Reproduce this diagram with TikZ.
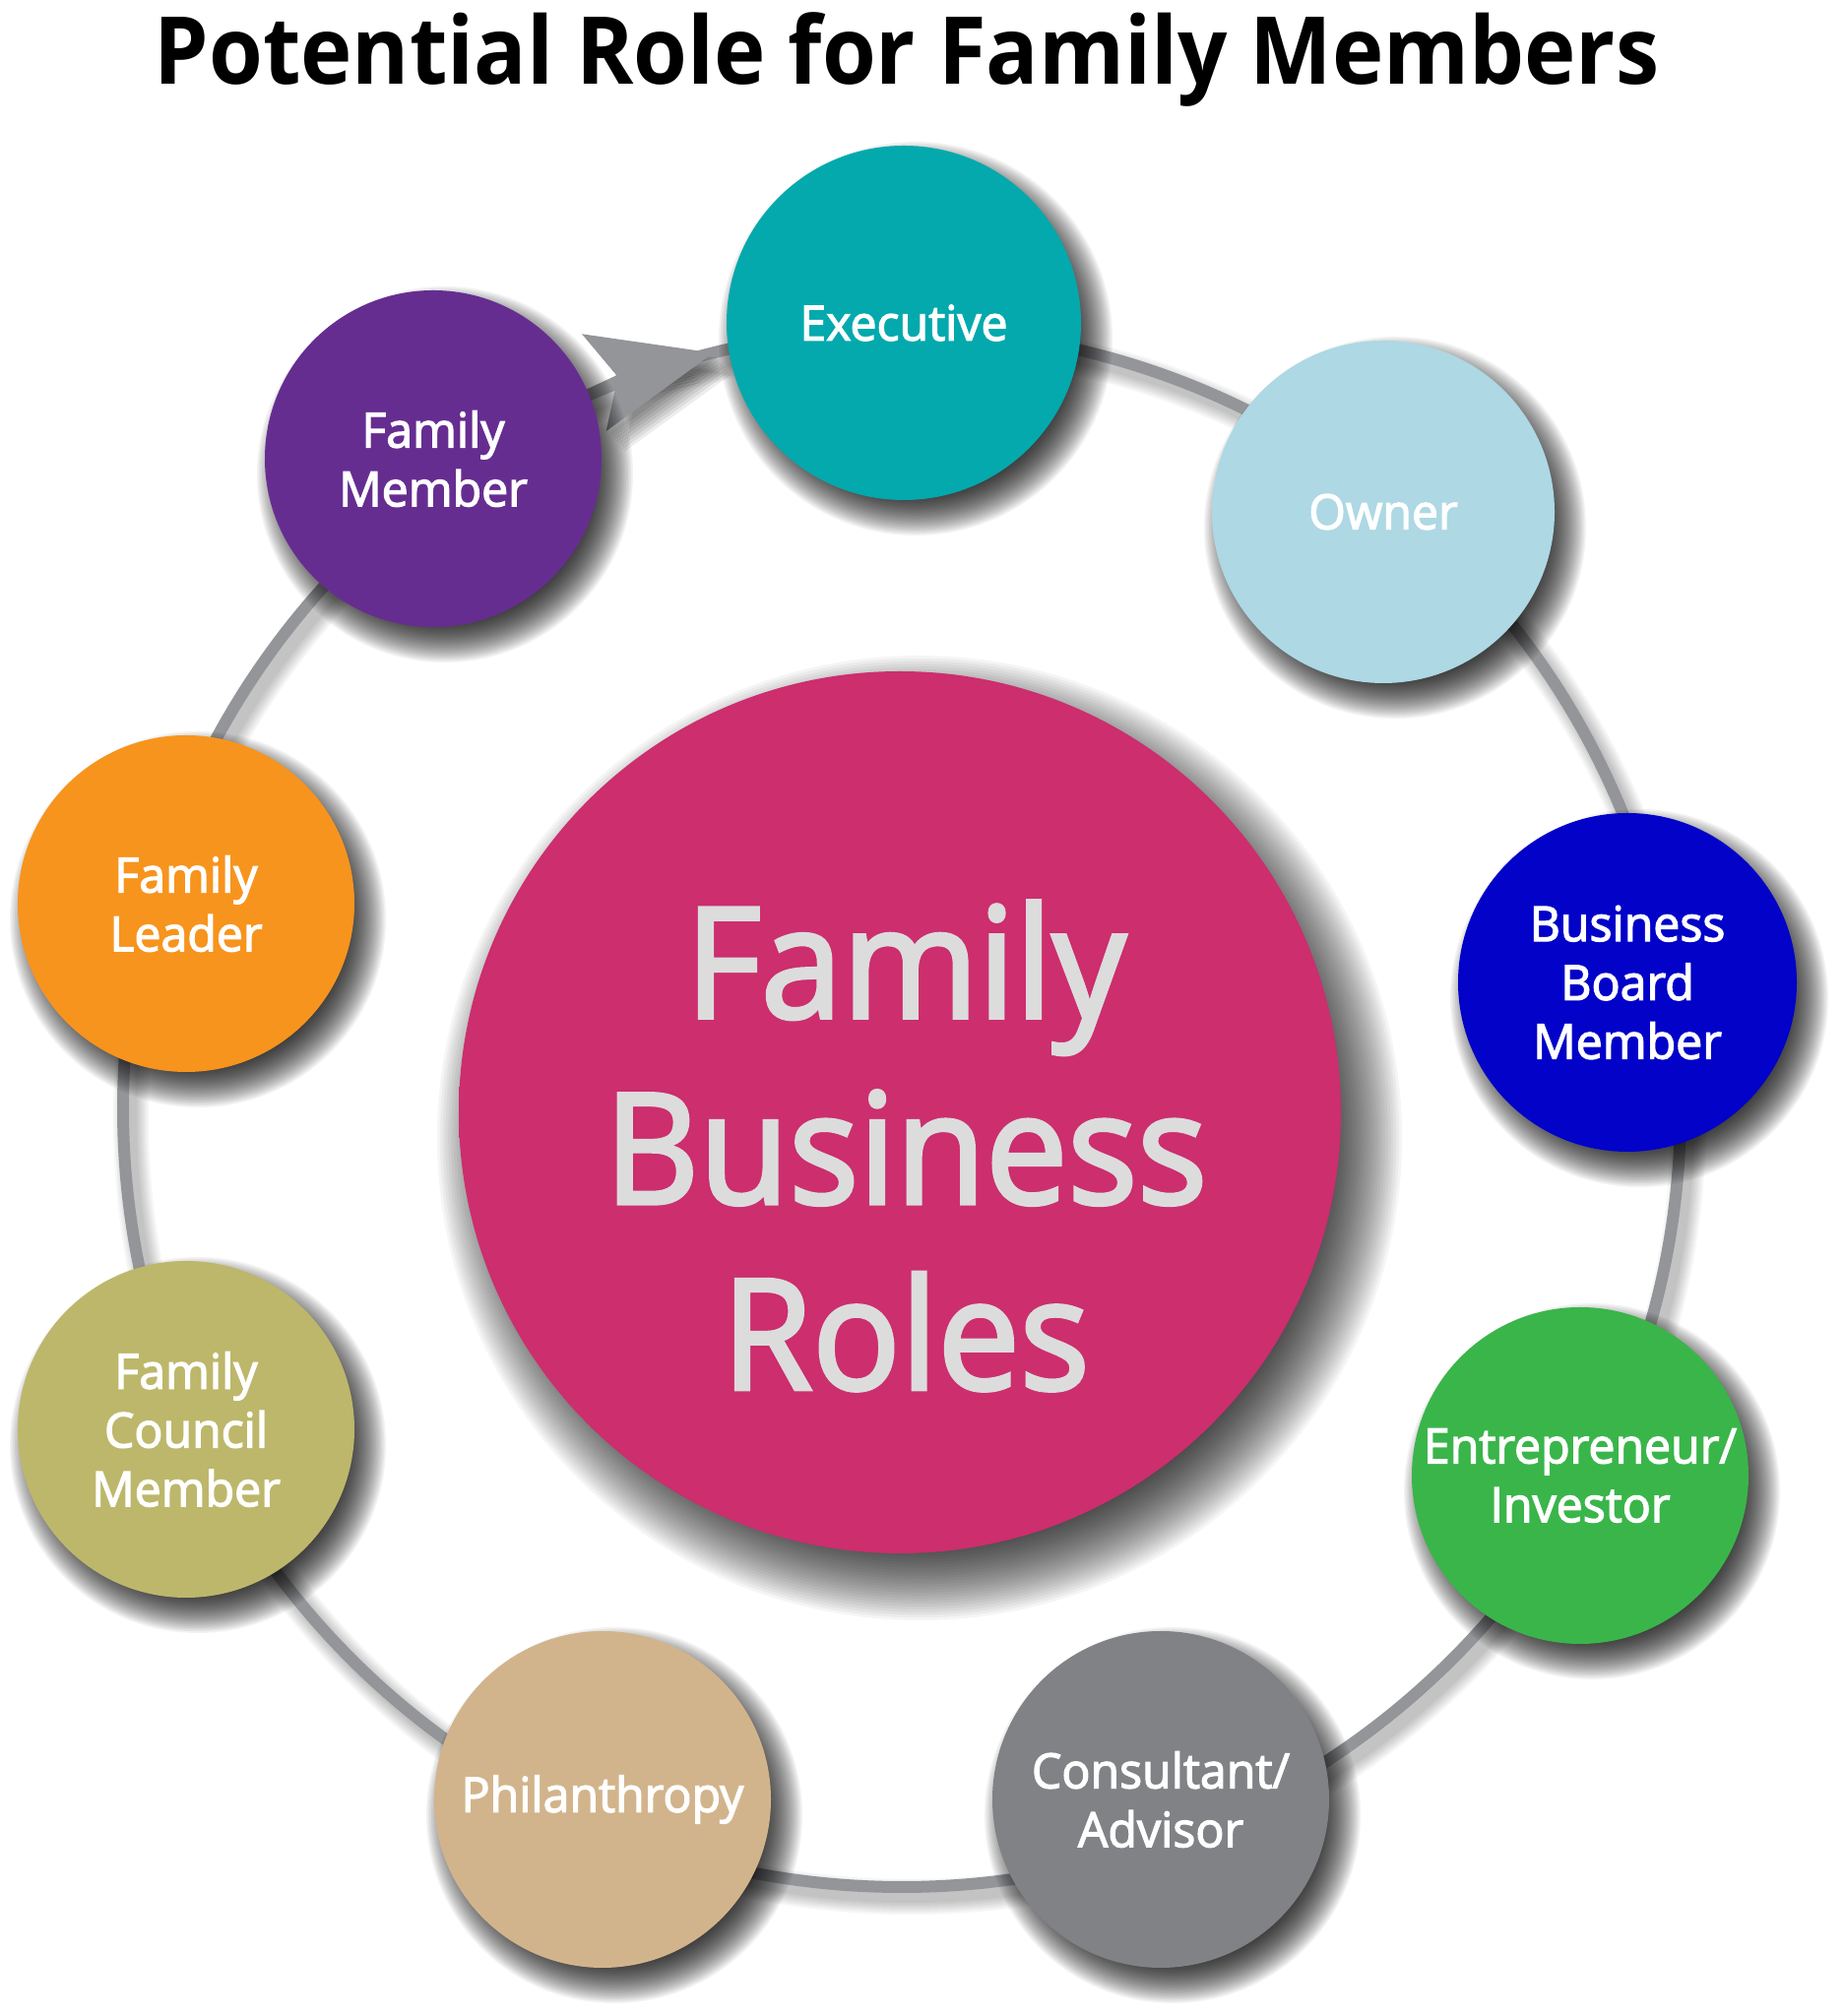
\documentclass[tikz,border=0pt]{standalone}
\usepackage{fontspec}
\setmainfont{Open Sans}[FakeStretch=0.93]
\newfontfamily\lblfont{Open Sans}[FakeStretch=0.98,FakeBold=2.5]
\newfontfamily\hubfont{Open Sans}[FakeStretch=0.95,FakeBold=2.5]
\usetikzlibrary{arrows.meta}
\definecolor{ringgray}{HTML}{939598}
\definecolor{cexec}{HTML}{03A9AD}
\definecolor{cowner}{HTML}{ADD8E4}
\definecolor{cboard}{HTML}{0202C8}
\definecolor{centre}{HTML}{3AB54A}
\definecolor{cconsult}{HTML}{808285}
\definecolor{cphil}{HTML}{D2B48C}
\definecolor{ccouncil}{HTML}{BDB76B}
\definecolor{cleader}{HTML}{F7941D}
\definecolor{cmember}{HTML}{662D91}
\definecolor{pinkmain}{HTML}{CC2E6E}
\definecolor{pinklight}{HTML}{EE5E97}
\definecolor{centraltext}{HTML}{DCDCDC}
\pgfdeclareradialshading{pinkball}{\pgfpoint{9bp}{-2bp}}{color(0bp)=(pinkmain); color(46bp)=(pinkmain); color(58bp)=(pinklight); color(70bp)=(pinklight)}
\pgfdeclarelayer{back}
\pgfsetlayers{back,main}
\newcommand\softshadow[7]{% node, radius, dx, dy, blur, alpha, steps
  \foreach \k in {0,...,#7}
    \fill[black, opacity=#6] ([shift={(#3,#4)}]#1.center) circle[radius={#2-#5+\k*2*#5/#7}];
}
\tikzset{
  role/.style={circle, minimum size=34.2mm, inner sep=0pt, text=white, align=center,
    font=\lblfont\fontsize{14}{17}\selectfont},
  ring/.style={draw=ringgray, line width=1.2mm},
  ringarrow/.style={draw=ringgray, fill=ringgray, line width=1.2mm, -{Stealth[length=12.4mm, width=10mm, inset=2.4mm]}},
}
\begin{document}
\begin{tikzpicture}[x=0.1mm,y=0.1mm]
\useasboundingbox (0,0) rectangle (1873,2048);

\node[anchor=base, font=\bfseries\fontsize{27.1}{32}\selectfont] (title) at (921,1962) {Potential Role for Family Members};

% central circle
\node[circle, minimum size=89.6mm, inner sep=0pt, shade, shading=pinkball] (hub) at (914,918) {};
\node[font=\hubfont\fontsize{44.5}{53.7}\selectfont, text=centraltext, align=center] (hublabel) at (920,884) {Family\\Business\\Roles};

% role circles
\node[role, fill=cexec, minimum size=36mm] (exec) at (918,1720) {Executive};
\node[role, fill=cowner, minimum size=34.8mm] (owner) at (1405,1528) {Owner};
\node[role, fill=cboard, minimum size=34.4mm] (board) at (1653,1050) {Business\\Board\\Member};
\node[role, fill=centre] (entre) at (1605,549) {Entrepreneur/\\Investor};
\node[role, fill=cconsult] (consult) at (1179,220) {Consultant/\\Advisor};
\node[role, fill=cphil] (phil) at (612,220) {Philanthropy};
\node[role, fill=ccouncil] (council) at (189,596) {Family\\Council\\Member};
\node[role, fill=cleader] (leader) at (189,1130) {Family\\Leader};
\node[role, fill=cmember] (member) at (440,1582) {Family\\Member};

\begin{pgfonlayer}{back}
  \fill[white] (0,0) rectangle (1873,2048);
  % ring and its shadow
  \coordinate (ringc) at (916,922);
  \foreach \w in {36,32,...,12}
    \draw[line width=\w*0.1mm, black, opacity=0.035] ([shift={(8,-10)}]ringc) circle[radius=791];
  \draw[ring] (ringc) circle[radius=791];
  % arrow on the ring, from Family Member towards Executive
  \path (ringc) ++(118:791) coordinate (atail);
  \path (ringc) ++(107:791) coordinate (ashadow);
  \foreach \s in {4,6,...,18}
    \draw[ringarrow, draw=black, fill=black, opacity=0.07, line width=0.01pt] ([shift={(\s,-1.2*\s)}]ashadow) arc[start angle=107, end angle=104, radius=791];
  \draw[ringarrow] (atail) arc[start angle=118, end angle=104, radius=791];
  % circle shadows
  \softshadow{hub}{448}{20}{-26}{42}{0.04}{30}
  \softshadow{exec}{180}{12}{-16}{20}{0.05}{24}
  \softshadow{owner}{174}{12}{-16}{20}{0.05}{24}
  \softshadow{board}{172}{12}{-16}{20}{0.05}{24}
  \softshadow{entre}{171}{12}{-16}{20}{0.05}{24}
  \softshadow{consult}{171}{12}{-16}{20}{0.05}{24}
  \softshadow{phil}{171}{12}{-16}{20}{0.05}{24}
  \softshadow{council}{171}{12}{-16}{20}{0.05}{24}
  \softshadow{leader}{171}{12}{-16}{20}{0.05}{24}
  \softshadow{member}{171}{12}{-16}{20}{0.05}{24}
\end{pgfonlayer}
\end{tikzpicture}
\end{document}
